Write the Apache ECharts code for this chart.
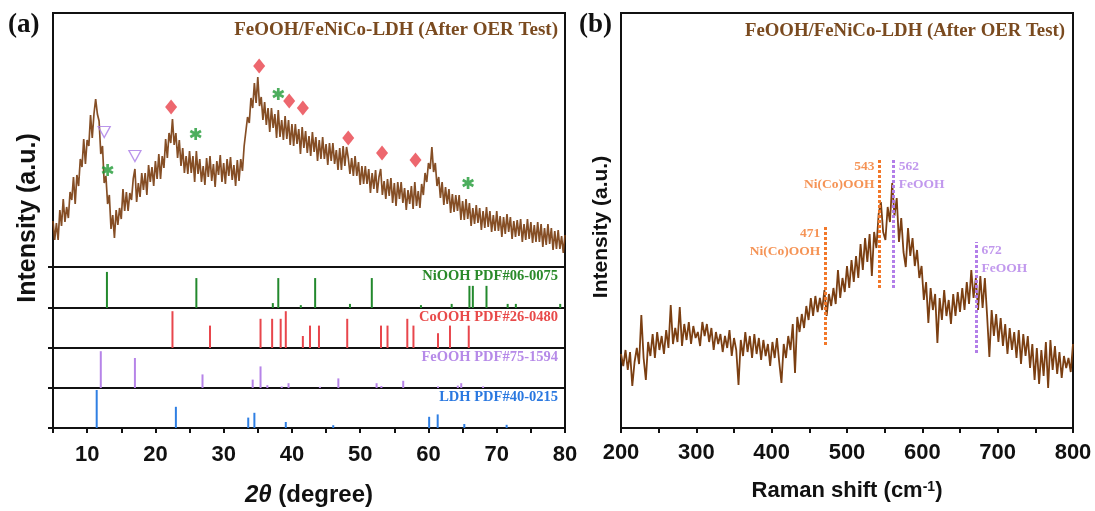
<!DOCTYPE html>
<html>
<head>
<meta charset="utf-8">
<script src="https://cdn.jsdelivr.net/npm/echarts@6/dist/echarts.min.js"></script>
<style>
  html, body { margin: 0; padding: 0; background: #fff; }
  #chart { width: 1095px; height: 511px; }
</style>
</head>
<body>
<div id="chart"></div>
<script>
// ---- (a) XRD scan: 2θ from 5° to 80°, 0.25° step ----
const xrdStart = 5;
const xrdStep = 0.25;
const xrdIntensity = [
  46, 27, 44, 27,   57, 41, 68, 45,   60, 49, 75, 67,   90, 63, 92, 81,
  108, 100, 128, 103, 127, 121, 152, 129, 153, 168, 153, 146, 113, 121, 84, 91,
  63, 72, 38, 52,   29, 57, 42, 59,   48, 78, 56, 75,   56, 74, 67, 88,
  98, 65, 84, 70,   94, 77, 94, 72,   102, 85, 100, 81, 106, 88, 113, 88,
  111, 99, 128, 109, 134, 124, 148, 122, 134, 109, 127, 101, 119, 94, 111, 93,
  116, 94, 111, 85, 116, 93, 108, 85, 101, 82, 109, 90, 111, 86, 103, 80,
  106, 92, 112, 85, 104, 83, 108, 91, 110, 87, 102, 81, 107, 86, 108, 96,
  121, 119, 150, 144, 169, 159, 184, 164, 190, 161, 170, 147, 165, 142, 159, 135,
  159, 139, 153, 129, 157, 130, 147, 127, 151, 128, 147, 122, 143, 121, 143, 123,
  138, 113, 140, 119, 136, 114, 131, 111, 135, 115, 130, 106, 127, 108, 130, 108,
  123, 102, 124, 106, 124, 103, 117, 97, 119, 97, 121, 101, 120, 109, 93, 109,
  91, 111, 91, 105, 82, 101, 83, 101, 83, 98, 74, 94,  78, 97, 74, 90,
  98, 72, 86, 68,   88, 71, 89, 64,   84, 61, 85, 68,   85, 64, 79, 57,
  77, 63, 81, 58,   85, 61, 76, 59,   83, 72, 94, 85,   104, 98, 120, 95,
  104, 81, 90, 69,  85, 62, 80, 63,   78, 54, 73, 55,   72, 56, 72, 47,
  66, 47, 68, 48,   64, 41, 59, 43,   62, 44, 59, 37,   56, 39, 60, 40,
  56, 35, 52, 36,   56, 36, 51, 30,   50, 33, 53, 35,   50, 28, 46, 30,
  47, 31, 48, 25,   43, 27, 48, 28,   45, 24, 42, 25,   45, 25, 43, 20,
  39, 22, 43, 23,   39, 17, 36, 18,   37, 18, 31, 14,   32
];

// Phase markers above the XRD peaks: [2θ, intensity]
const coOOHPeaks = [[22.3, 160], [35.2, 201], [39.6, 166], [41.6, 159], [48.25, 129], [53.2, 114], [58.1, 107]];
const niOOHPeaks = [[13.0, 97], [25.9, 133], [38.0, 173], [65.8, 84]];
const feOOHPeaks = [[12.5, 135], [17.0, 111]];

// Standard cards: [2θ, relative intensity]
const cardNames = ['NiOOH PDF#06-0075', 'CoOOH PDF#26-0480', 'FeOOH PDF#75-1594', 'LDH PDF#40-0215'];
const niOOHCard = [[12.9, 88], [26.0, 73], [37.2, 12], [38.0, 73], [41.3, 7], [43.4, 73], [48.5, 10], [51.7, 73],
  [58.9, 7], [63.4, 10], [66.0, 54], [66.5, 54], [68.5, 54], [71.6, 10], [72.8, 10], [79.3, 10]];
const coOOHCard = [[22.5, 92], [28.0, 56], [35.4, 73], [37.1, 73], [38.35, 73], [39.1, 92], [41.6, 30], [42.65, 56],
  [43.96, 56], [48.1, 73], [53.05, 56], [54.0, 56], [56.9, 73], [57.8, 56], [61.4, 37], [63.15, 56], [65.9, 56]];
const feOOHCard = [[12.0, 92], [17.0, 75], [26.9, 34], [34.25, 21], [35.4, 54], [36.4, 7], [38.5, 4], [39.5, 12],
  [44.1, 3], [46.8, 24], [52.4, 12], [53.1, 5], [56.3, 18], [61.4, 4], [64.3, 6], [64.8, 12], [68.0, 4]];
const ldhCard = [[11.4, 95], [23.0, 53], [33.6, 26], [34.5, 38], [39.1, 15], [46.05, 7], [60.1, 28], [61.35, 34],
  [65.25, 10], [71.45, 8]];

// ---- (b) Raman spectrum: 200 to 800 cm-1, 3 cm-1 step ----
const ramanStart = 200;
const ramanStep = 3;
const ramanIntensity = [
  74, 62, 78, 58, 76, 42, 66, 80, 64, 113,
  70, 48, 86, 72, 94, 70, 96, 78, 92, 74,
  98, 80, 123, 84, 100, 86, 121, 82, 104, 88,
  106, 84, 102, 90, 96, 82, 106, 92, 104, 86,
  100, 78, 96, 84, 94, 76, 92, 80, 98, 72,
  90, 78, 43, 88, 72, 96, 76, 92, 70, 94,
  74, 90, 68, 88, 72, 84, 62, 86, 70, 90,
  66, 45, 84, 70, 92, 78, 104, 55, 111, 96,
  114, 100, 122, 108, 130, 112, 132, 116, 130, 118,
  138, 112, 134, 122, 140, 124, 158, 130, 150, 136,
  162, 140, 168, 146, 172, 150, 184, 158, 190, 166,
  194, 152, 196, 180, 214, 226, 196, 188, 221, 206,
  245, 212, 230, 186, 210, 176, 161, 200, 172, 190,
  162, 178, 150, 162, 128, 146, 105, 140, 118, 134,
  85, 130, 108, 138, 112, 128, 104, 134, 112, 136,
  116, 140, 118, 146, 124, 158, 130, 150, 118, 152,
  120, 150, 112, 71, 118, 92, 114, 86, 110, 82,
  104, 74, 100, 78, 96, 70, 98, 64, 94, 72,
  92, 60, 84, 48, 80, 44, 78, 52, 86, 40,
  88, 58, 82, 54, 76, 50, 72, 60, 70, 56,
  84
];

// Assigned Raman bands (cm-1), phase, and the intensity range the guide line covers
const ramanBands = [471, 543, 562, 672];
const ramanPhases = ['Ni(Co)OOH', 'Ni(Co)OOH', 'FeOOH', 'FeOOH'];
const ramanBandSpan = [[83, 203], [140, 270], [140, 270], [75, 186]];

const TITLE = 'FeOOH/FeNiCo-LDH (After OER Test)';

// ---- build ----
const xrdData = xrdIntensity.map((v, i) => [xrdStart + i * xrdStep, v]);
const ramanData = ramanIntensity.map((v, i) => [ramanStart + i * ramanStep, v]);

const INK = '#111';
const BROWN = '#7b3f12';
const TITLE_BROWN = '#7a4a1f';
const ORANGE = '#f2782a';
const VIOLET = '#b27ee8';
const cardColors = ['#23892d', '#e8464c', '#b684e8', '#2f7fe3'];
const cardLabelColors = ['#2a8a2a', '#e84a4a', '#b68ae8', '#2a78e0'];
const cardData = [niOOHCard, coOOHCard, feOOHCard, ldhCard];

const A_LEFT = 53, A_WIDTH = 512;
const panelTops = [267, 308, 348, 388];
const panelHeights = [41, 40, 40, 40];

const frame = { show: true, borderColor: INK, borderWidth: 2, backgroundColor: 'transparent' };
const tickFont = { color: INK, fontSize: 22, fontWeight: 'bold', fontFamily: 'Liberation Sans' };

const grids = [{ left: A_LEFT, top: 13, width: A_WIDTH, height: 254, ...frame }];
panelTops.forEach((t, i) => grids.push({ left: A_LEFT, top: t, width: A_WIDTH, height: panelHeights[i], ...frame }));
grids.push({ left: 621, top: 13, width: 452, height: 415, ...frame });

const xAxes = [];
const yAxes = [];
for (let g = 0; g < 5; g++) {
  const bottom = g === 4;
  xAxes.push({
    type: 'value', gridIndex: g, min: 5, max: 80, interval: 5,
    show: bottom,
    axisLine: { show: true, onZero: false, lineStyle: { color: INK, width: 2 } },
    axisTick: { show: true, length: 5, lineStyle: { color: INK, width: 2 } },
    axisLabel: { ...tickFont, margin: 16, formatter: v => (v % 10 === 0 ? String(v) : '') },
    splitLine: { show: false },
    name: bottom ? '{i|2θ} (degree)' : '',
    nameLocation: 'middle', nameGap: 55,
    nameTextStyle: {
      color: INK, fontSize: 24, fontWeight: 'bold', fontFamily: 'Liberation Sans',
      rich: { i: { color: INK, fontSize: 24, fontWeight: 'bold', fontStyle: 'italic', fontFamily: 'Liberation Sans' } }
    }
  });
  if (g === 0) {
    yAxes.push({ type: 'value', gridIndex: 0, min: 0, max: 254, show: false });
  } else {
    yAxes.push({
      type: 'value', gridIndex: g, min: 0, max: 100, interval: 100,
      axisLine: { show: false },
      axisTick: { show: true, length: 5, lineStyle: { color: INK, width: 2 } },
      axisLabel: { show: false }, splitLine: { show: false }
    });
  }
}
xAxes.push({
  type: 'value', gridIndex: 5, min: 200, max: 800, interval: 50,
  axisLine: { show: true, onZero: false, lineStyle: { color: INK, width: 2 } },
  axisTick: { show: true, length: 5, lineStyle: { color: INK, width: 2 } },
  axisLabel: { ...tickFont, margin: 14, formatter: v => (v % 100 === 0 ? String(v) : '') },
  splitLine: { show: false },
  name: 'Raman shift (cm{sup|-1})',
  nameLocation: 'middle', nameGap: 52,
  nameTextStyle: {
    color: INK, fontSize: 22, fontWeight: 'bold', fontFamily: 'Liberation Sans',
    rich: { sup: { color: INK, fontSize: 14, fontWeight: 'bold', fontFamily: 'Liberation Sans', verticalAlign: 'top' } }
  }
});
yAxes.push({ type: 'value', gridIndex: 5, min: 0, max: 415, show: false });

// six-armed asterisk marker
const ASTERISK = 'path://M-1.1,-5L1.1,-5L1.1,5L-1.1,5Z M3.78,-3.45L4.88,-1.55L-3.78,3.45L-4.88,1.55Z M-4.88,-1.55L-3.78,-3.45L4.88,1.55L3.78,3.45Z';

const series = [
  {
    type: 'line', xAxisIndex: 0, yAxisIndex: 0, data: xrdData,
    showSymbol: false, symbol: 'none', silent: true,
    lineStyle: { color: BROWN, width: 1.7, opacity: 0.92 }, z: 2
  },
  {
    type: 'scatter', xAxisIndex: 0, yAxisIndex: 0, data: coOOHPeaks,
    symbol: 'diamond', symbolSize: [12, 15], itemStyle: { color: '#e8414a' }, z: 5
  },
  {
    type: 'scatter', xAxisIndex: 0, yAxisIndex: 0, data: niOOHPeaks,
    symbol: ASTERISK, symbolSize: 12, itemStyle: { color: '#1f9a35' }, z: 5
  },
  {
    type: 'scatter', xAxisIndex: 0, yAxisIndex: 0, data: feOOHPeaks,
    symbol: 'triangle', symbolRotate: 180, symbolSize: [12, 11],
    itemStyle: { color: 'rgba(255,255,255,0)', borderColor: '#a97be6', borderWidth: 1.3 }, z: 5
  }
];
cardData.forEach((d, i) => {
  series.push({
    type: 'bar', xAxisIndex: i + 1, yAxisIndex: i + 1, data: d,
    barWidth: 2, itemStyle: { color: cardColors[i] }, silent: true, z: 1
  });
});
series.push({
  type: 'line', xAxisIndex: 5, yAxisIndex: 5, data: ramanData,
  showSymbol: false, symbol: 'none', silent: true,
  lineStyle: { color: BROWN, width: 1.8 }, z: 2,
  markLine: {
    silent: true, symbol: ['none', 'none'], label: { show: false },
    lineStyle: { type: [3, 2], width: 3 },
    data: ramanBands.map((b, i) => {
      const c = ramanPhases[i] === 'FeOOH' ? VIOLET : ORANGE;
      return [
        { coord: [b, ramanBandSpan[i][0]], lineStyle: { color: c, type: [3, 2], width: 3 } },
        { coord: [b, ramanBandSpan[i][1]], lineStyle: { color: c, type: [3, 2], width: 3 } }
      ];
    })
  }
});
series.push({
  type: 'scatter', xAxisIndex: 5, yAxisIndex: 5, symbolSize: 0, silent: true, z: 6,
  data: ramanBands.map((b, i) => {
    const fe = ramanPhases[i] === 'FeOOH';
    return {
      value: [b, ramanBandSpan[i][1]],
      label: {
        show: true,
        formatter: b + '\n' + ramanPhases[i],
        position: fe ? 'right' : 'left',
        distance: 5,
        align: fe ? 'left' : 'right',
        verticalAlign: 'top',
        color: fe ? VIOLET : ORANGE,
        fontSize: 13.5, fontWeight: 'bold', fontFamily: 'Liberation Serif', lineHeight: 18
      }
    };
  })
});

const graphic = [
  { type: 'text', left: 8, top: 12, style: { text: '(a)', font: 'bold 27px "Liberation Serif"', fill: INK } },
  { type: 'text', left: 579, top: 12, style: { text: '(b)', font: 'bold 27px "Liberation Serif"', fill: INK } },
  { type: 'text', right: 537, top: 21, style: { text: TITLE, font: 'bold 19px "Liberation Serif"', fill: TITLE_BROWN } },
  { type: 'text', right: 30, top: 22, style: { text: TITLE, font: 'bold 18.8px "Liberation Serif"', fill: TITLE_BROWN } },
  {
    type: 'text', x: 28, y: 218, rotation: Math.PI / 2,
    style: { text: 'Intensity (a.u.)', font: 'bold 25px "Liberation Sans"', fill: INK, align: 'center', verticalAlign: 'middle' }
  },
  {
    type: 'text', x: 601, y: 227, rotation: Math.PI / 2,
    style: { text: 'Intensity (a.u.)', font: 'bold 21px "Liberation Sans"', fill: INK, align: 'center', verticalAlign: 'middle' }
  }
];
cardNames.forEach((n, i) => {
  graphic.push({
    type: 'text', right: 537, top: panelTops[i] + 2,
    style: { text: n, font: 'bold 14.5px "Liberation Serif"', fill: cardLabelColors[i] }
  });
});

const chart = echarts.init(document.getElementById('chart'), null, { renderer: 'canvas' });
chart.setOption({
  animation: false,
  backgroundColor: '#fff',
  grid: grids,
  xAxis: xAxes,
  yAxis: yAxes,
  series: series,
  graphic: graphic
});
</script>
</body>
</html>
